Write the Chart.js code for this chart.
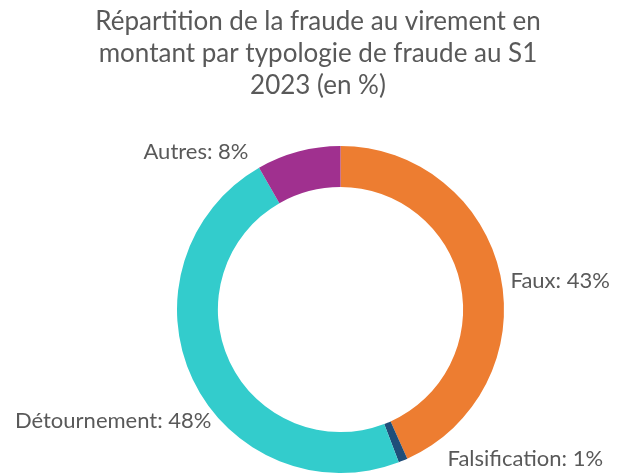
<!DOCTYPE html>
<html lang="fr">
<head>
<meta charset="utf-8">
<script src="https://cdn.jsdelivr.net/npm/chart.js@4.4.0/dist/chart.umd.min.js"></script>
<style>
  html, body { margin: 0; padding: 0; background: #fff; }
  #wrap { position: relative; width: 622px; height: 473px; }
</style>
</head>
<body>
<div id="wrap"><canvas id="chart-fraude" width="622" height="473"></canvas></div>
<script>
// données
var categories = ['Faux', 'Falsification', 'Détournement', 'Autres'];
var valeurs    = [43.3, 0.9, 47.5, 8.3];
var couleurs   = ['#ED7D31', '#1F4E79', '#33CCCC', '#A0308F'];
var titre      = ['Répartition de la fraude au virement en', 'montant par typologie de fraude au S1', '2023 (en %)'];

var texte = '#595959';
var police = "Lato, 'Open Sans', sans-serif";

// position des étiquettes par rapport au centre du donut (x, y de la ligne de base, alignement)
var posEtiquettes = [
  { dx: 170, dy: -22, align: 'left' },
  { dx: 107, dy: 156, align: 'left' },
  { dx: -129, dy: 118, align: 'right' },
  { dx: -92, dy: -151, align: 'right' }
];

var pluginTexte = {
  id: 'texteFraude',
  afterDraw: function(chart) {
    var ctx = chart.ctx;
    ctx.save();
    ctx.fillStyle = texte;
    ctx.textBaseline = 'alphabetic';

    // titre
    ctx.font = '26px ' + police;
    ctx.textAlign = 'center';
    titre.forEach(function(l, i) {
      ctx.fillText(l, 318, 29.5 + i * 32.3);
    });

    // étiquettes
    var arc0 = chart.getDatasetMeta(0).data[0];
    var cx = arc0.x, cy = arc0.y;
    ctx.font = '22px ' + police;
    categories.forEach(function(c, i) {
      var p = posEtiquettes[i];
      ctx.textAlign = p.align;
      ctx.fillText(c + ': ' + Math.round(valeurs[i]) + '%', cx + p.dx, cy + p.dy);
    });
    ctx.restore();
  }
};

new Chart(document.getElementById('chart-fraude'), {
  type: 'doughnut',
  data: {
    labels: categories,
    datasets: [{
      data: valeurs,
      backgroundColor: couleurs,
      borderWidth: 0,
      hoverOffset: 0
    }]
  },
  options: {
    responsive: false,
    animation: false,
    cutout: '75%',
    layout: { padding: { top: 146, left: 177, right: 118, bottom: 0 } },
    plugins: {
      legend: { display: false },
      title: { display: false },
      tooltip: { enabled: false }
    }
  },
  plugins: [pluginTexte]
});
</script>
</body>
</html>
